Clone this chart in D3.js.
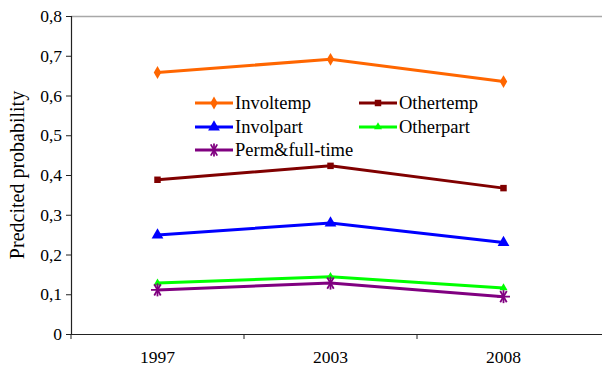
<!DOCTYPE html>
<html>
<head>
<meta charset="utf-8">
<script src="https://cdn.jsdelivr.net/npm/d3@7"></script>
<style>
  html, body { margin: 0; padding: 0; background: #fff; }
  svg { display: block; }
</style>
</head>
<body>
<svg id="chart" width="602" height="368"></svg>
<script>
// Survey years on the category axis
const years = ["1997", "2003", "2008"];

// Predicted probability per group and year
const involtemp = [0.658, 0.691, 0.635];
const othertemp = [0.388, 0.423, 0.367];
const involpart = [0.249, 0.279, 0.230];
const otherpart = [0.128, 0.144, 0.116];
const permFull  = [0.111, 0.128, 0.094];

const seriesNames = ["Involtemp", "Othertemp", "Involpart", "Otherpart", "Perm&full-time"];
const seriesValues = [involtemp, othertemp, involpart, otherpart, permFull];

const yTicks = [0, 0.1, 0.2, 0.3, 0.4, 0.5, 0.6, 0.7, 0.8];

const FONT = "'Liberation Serif', 'Times New Roman', 'DejaVu Serif', serif";

const styles = [
  { color: "#FF6600", marker: "diamond", size: 48 },
  { color: "#800000", marker: "square", size: 42 },
  { color: "#0000FF", marker: "triangle", size: 60 },
  { color: "#00FF00", marker: "triangle", size: 28 },
  { color: "#800080", marker: "star", size: 0 }
];

const svg = d3.select("#chart");
const plotLeft = 71, plotTop = 16, plotBottom = 334, bandRight = 590, plotRight = 602;

const x = d3.scaleBand().domain(years).range([plotLeft, bandRight]);
const y = d3.scaleLinear().domain([0, 0.8]).range([plotBottom, plotTop]);

// Plot area top border
svg.append("line")
  .attr("x1", plotLeft).attr("x2", plotRight)
  .attr("y1", plotTop + 0.5).attr("y2", plotTop + 0.5)
  .attr("stroke", "#a8a8a8").attr("stroke-width", 1.5);

// Y axis
const fmt = d => d === 0 ? "0" : d3.format(".1f")(d).replace(".", ",");
const yAxis = svg.append("g")
  .attr("transform", `translate(${plotLeft},0)`)
  .call(d3.axisLeft(y).tickValues(yTicks).tickFormat(fmt).tickSize(5).tickPadding(4));
yAxis.attr("font-family", FONT).attr("font-size", 17.5);
yAxis.select(".domain").attr("stroke", "#222").attr("stroke-width", 1.2);
yAxis.selectAll(".tick line").attr("stroke", "#222");
yAxis.selectAll(".tick text").attr("fill", "#000");

// X axis
const xAxisG = svg.append("g")
  .attr("transform", `translate(0,${plotBottom})`)
  .attr("font-family", FONT).attr("font-size", 17.5);
xAxisG.append("line")
  .attr("x1", plotLeft).attr("x2", plotRight)
  .attr("y1", 0.5).attr("y2", 0.5)
  .attr("stroke", "#222").attr("stroke-width", 1.2);
xAxisG.selectAll("line.tk")
  .data(years)
  .join("line")
  .attr("class", "tk")
  .attr("x1", d => x(d)).attr("x2", d => x(d))
  .attr("y1", 0).attr("y2", 5)
  .attr("stroke", "#222");
xAxisG.selectAll("text")
  .data(years)
  .join("text")
  .attr("x", d => x(d) + x.bandwidth() / 2)
  .attr("y", 29)
  .attr("text-anchor", "middle")
  .text(d => d);

// Y axis title
svg.append("text")
  .attr("transform", `translate(24,${(plotTop + plotBottom) / 2}) rotate(-90)`)
  .attr("text-anchor", "middle")
  .attr("font-family", FONT)
  .attr("font-size", 20)
  .text("Predcited probability");

function drawMarker(g, st, cx, cy) {
  if (st.marker === "star") {
    const r = 6.5;
    const p = g.append("g").attr("transform", `translate(${cx},${cy})`);
    [0, 60, 120].forEach(a => {
      const rad = a * Math.PI / 180;
      p.append("line")
        .attr("x1", -r * Math.cos(rad)).attr("y1", -r * Math.sin(rad))
        .attr("x2", r * Math.cos(rad)).attr("y2", r * Math.sin(rad))
        .attr("stroke", st.color).attr("stroke-width", 1.8);
    });
    p.append("line").attr("x1", 0).attr("x2", 0).attr("y1", -r).attr("y2", r)
      .attr("stroke", st.color).attr("stroke-width", 1.8);
  } else {
    const type = { diamond: d3.symbolDiamond, square: d3.symbolSquare, triangle: d3.symbolTriangle }[st.marker];
    g.append("path")
      .attr("d", d3.symbol().type(type).size(st.size)())
      .attr("transform", `translate(${cx},${cy})`)
      .attr("fill", st.color);
  }
}

// Series lines and markers
const line = d3.line()
  .x((d, i) => x(years[i]) + x.bandwidth() / 2)
  .y(d => y(d));

seriesValues.forEach((vals, si) => {
  const st = styles[si];
  const g = svg.append("g");
  g.append("path")
    .attr("d", line(vals))
    .attr("fill", "none")
    .attr("stroke", st.color)
    .attr("stroke-width", 3);
  vals.forEach((v, i) => drawMarker(g, st, x(years[i]) + x.bandwidth() / 2, y(v)));
});

// Legend
const legendPos = [
  [195, 103], [359, 103],
  [195, 127], [359, 127],
  [195, 150]
];
seriesNames.forEach((name, si) => {
  const st = styles[si];
  const [lx, ly] = legendPos[si];
  const g = svg.append("g");
  g.append("line")
    .attr("x1", lx).attr("x2", lx + 38)
    .attr("y1", ly).attr("y2", ly)
    .attr("stroke", st.color).attr("stroke-width", 3);
  drawMarker(g, st, lx + 19, ly);
  g.append("text")
    .attr("x", lx + 40)
    .attr("y", ly + 6)
    .attr("font-family", FONT)
    .attr("font-size", 18.5)
    .text(name);
});
</script>
</body>
</html>
